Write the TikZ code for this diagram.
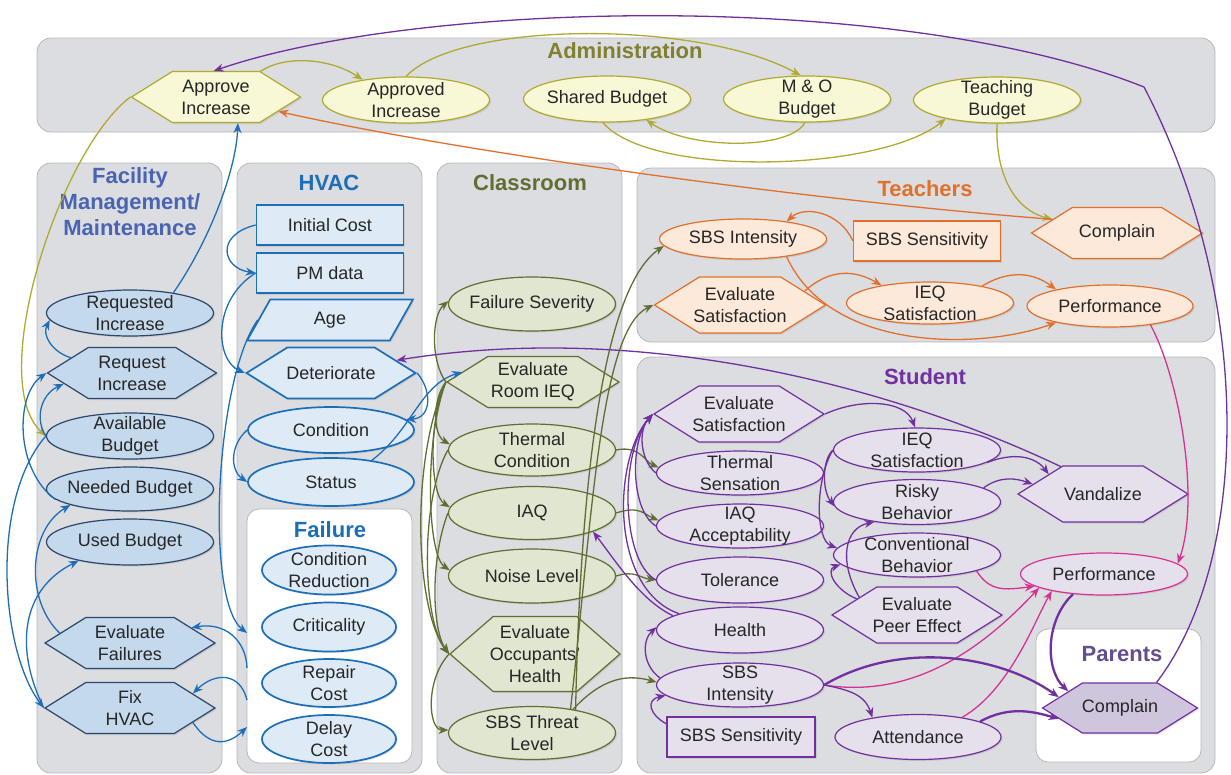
\documentclass[tikz,border=0pt]{standalone}
\usepackage{fontspec}
\setmainfont{Liberation Sans}
\usetikzlibrary{arrows.meta,shapes.geometric,shapes.symbols,shadows}

\definecolor{ink}{RGB}{38,38,38}
\definecolor{grpfill}{RGB}{220,221,224}
\definecolor{grpline}{RGB}{182,183,186}
\definecolor{admT}{RGB}{128,128,48}
\definecolor{admL}{RGB}{176,170,50}
\definecolor{admF}{RGB}{248,247,214}
\definecolor{facT}{RGB}{72,100,178}
\definecolor{facL}{RGB}{42,72,108}
\definecolor{facF}{RGB}{197,217,237}
\definecolor{hvcT}{RGB}{28,110,185}
\definecolor{hvcF}{RGB}{222,235,247}
\definecolor{clsT}{RGB}{95,110,50}
\definecolor{clsF}{RGB}{224,230,207}
\definecolor{tchT}{RGB}{226,112,45}
\definecolor{tchF}{RGB}{253,233,217}
\definecolor{stuT}{RGB}{112,48,160}
\definecolor{stuF}{RGB}{230,224,236}
\definecolor{parT}{RGB}{100,78,142}
\definecolor{parF}{RGB}{207,198,222}
\definecolor{mag}{RGB}{214,50,150}

\tikzset{
  grp/.style={draw=grpline, fill=grpfill, rounded corners=14pt, line width=0.8pt},
  wbox/.style={draw=grpline, fill=white, rounded corners=12pt, line width=0.8pt},
  ttl/.style={font=\fontsize{22}{26}\selectfont\bfseries, align=center},
  nd/.style={font=\fontsize{18}{22}\selectfont, text=ink, align=center, line width=1.2pt,
             drop shadow={shadow xshift=1.5pt, shadow yshift=-1.5pt, opacity=.2}},
  ell/.style={nd, ellipse, minimum width=167pt, minimum height=46pt, inner xsep=-20pt, inner ysep=-6pt},
  hexa/.style={nd, signal, signal to=east and west, signal pointer angle=64,
               minimum width=169pt, minimum height=51pt, inner xsep=-8pt, inner ysep=0pt},
  rectn/.style={nd, rectangle, minimum width=147pt, minimum height=40pt},
  adm/.style={draw=admL, fill=admF},
  fac/.style={draw=facL, fill=facF},
  hvc/.style={draw=hvcT, fill=hvcF, line width=1.7pt},
  cls/.style={draw=clsT, fill=clsF},
  tch/.style={draw=tchT, fill=tchF},
  stu/.style={draw=stuT, fill=stuF},
  flow/.style={-{Stealth[length=10pt,width=8pt]}, line width=1.3pt},
  fat/.style={flow, line width=2.3pt},
}

\begin{document}
\begin{tikzpicture}[x=1pt,y=1pt]
  \useasboundingbox (0,0) rectangle (1231,-774);

  % groups
  \node[grp, minimum width=1178pt, minimum height=94pt] (admBox) at (626,-85) {};
  \node[grp, minimum width=185pt, minimum height=610pt] (facBox) at (129.5,-468) {};
  \node[grp, minimum width=185pt, minimum height=610pt] (hvcBox) at (329.5,-468) {};
  \node[grp, minimum width=185pt, minimum height=610pt] (clsBox) at (529.5,-468) {};
  \node[grp, minimum width=578pt, minimum height=174pt] (tchBox) at (926,-255) {};
  \node[grp, minimum width=578pt, minimum height=416pt] (stuBox) at (926,-565) {};
  \node[wbox, minimum width=165pt, minimum height=254pt] (failBox) at (329.5,-636) {};
  \node[wbox, minimum width=165pt, minimum height=133pt] (parBox) at (1118.5,-695.5) {};

  \node[ttl, text=admT] (admTtl) at (625,-51) {Administration};
  \node[ttl, text=facT] (facTtl) at (130,-202) {Facility\\Management/\\Maintenance};
  \node[ttl, text=hvcT] (hvcTtl) at (329,-183) {HVAC};
  \node[ttl, text=clsT] (clsTtl) at (530,-183) {Classroom};
  \node[ttl, text=tchT] (tchTtl) at (925,-189) {Teachers};
  \node[ttl, text=stuT] (stuTtl) at (925,-377) {Student};
  \node[ttl, text=hvcT] (failTtl) at (330,-530) {Failure};
  \node[ttl, text=parT] (parTtl) at (1122,-654) {Parents};

  % administration
  \node[hexa, adm] (apprInc) at (216,-97) {Approve\\Increase};
  \node[ell, adm] (apprdInc) at (406,-100) {Approved\\Increase};
  \node[ell, adm] (sharedB) at (607,-99) {Shared Budget};
  \node[ell, adm] (moB) at (807,-99) {M \& O\\Budget};
  \node[ell, adm] (teachB) at (997,-100) {Teaching\\Budget};

  % facility management
  \node[ell, fac] (reqdInc) at (130,-313) {Requested\\Increase};
  \node[hexa, fac] (reqInc) at (132,-373) {Request\\Increase};
  \node[ell, fac] (availB) at (130,-436) {Available\\Budget};
  \node[ell, fac, minimum height=44pt] (neededB) at (130,-489) {Needed Budget};
  \node[ell, fac] (usedB) at (130,-542) {Used Budget};
  \node[hexa, fac, minimum width=170pt] (evalFail) at (130,-643) {Evaluate\\Failures};
  \node[hexa, fac, minimum width=170pt] (fixHvac) at (130,-708) {Fix\\HVAC};

  % hvac
  \node[rectn, hvc] (initCost) at (330,-225) {Initial Cost};
  \node[rectn, hvc] (pmData) at (330,-273) {PM data};
  \node[nd, hvc, trapezium, trapezium left angle=69, trapezium right angle=111, trapezium stretches=true,
        minimum width=166pt, minimum height=41pt, inner sep=0pt] (age) at (330,-320) {Age};
  \node[hexa, hvc] (deter) at (331,-373) {Deteriorate};
  \node[ell, hvc, minimum width=166pt] (cond) at (331,-430) {Condition};
  \node[ell, hvc, minimum width=166pt, minimum height=48pt] (status) at (331,-482) {Status};
  \node[ell, hvc, minimum width=134pt, minimum height=49pt] (condRed) at (329,-570) {Condition\\Reduction};
  \node[ell, hvc, minimum width=134pt, minimum height=49pt] (crit) at (329,-627) {Criticality};
  \node[ell, hvc, minimum width=134pt, minimum height=48pt] (repCost) at (329,-683) {Repair\\Cost};
  \node[ell, hvc, minimum width=134pt, minimum height=48pt] (delCost) at (329,-739) {Delay\\Cost};

  % classroom
  \node[ell, cls, minimum height=54pt] (failSev) at (532,-304) {Failure Severity};
  \node[hexa, cls, minimum width=172pt] (evalRoom) at (533,-382) {Evaluate\\Room IEQ};
  \node[ell, cls, minimum height=52pt] (thermCond) at (532,-450) {Thermal\\Condition};
  \node[ell, cls, minimum height=53pt] (iaq) at (532,-513) {IAQ};
  \node[ell, cls, minimum height=54pt] (noise) at (532,-576) {Noise Level};
  \node[hexa, cls, minimum width=170pt, minimum height=75pt, signal pointer angle=82] (evalHealth) at (535,-654) {Evaluate\\Occupants'\\Health};
  \node[ell, cls, minimum height=53pt] (sbsThreat) at (532,-733) {SBS Threat\\Level};

  % teachers
  \node[ell, tch, minimum height=40pt] (tSbsInt) at (743,-239) {SBS Intensity};
  \node[rectn, tch] (tSbsSens) at (927,-241) {SBS Sensitivity};
  \node[hexa, tch, minimum width=171pt] (tComplain) at (1117,-233) {Complain};
  \node[hexa, tch, minimum width=171pt, minimum height=56pt] (tEvalSat) at (740,-305) {Evaluate\\Satisfaction};
  \node[ell, tch, minimum height=42pt] (tIeqSat) at (930,-303) {IEQ\\Satisfaction};
  \node[ell, tch, minimum width=166pt, minimum height=42pt] (tPerf) at (1110,-306) {Performance};

  % student
  \node[hexa, stu, minimum width=170pt, minimum height=56pt] (sEvalSat) at (739,-414) {Evaluate\\Satisfaction};
  \node[ell, stu, minimum height=44pt] (thermSens) at (740,-473) {Thermal\\Sensation};
  \node[ell, stu, minimum height=44pt] (iaqAcc) at (740,-526) {IAQ\\Acceptability};
  \node[ell, stu] (tolerance) at (740,-580) {Tolerance};
  \node[ell, stu] (health) at (740,-630) {Health};
  \node[ell, stu, minimum height=44pt] (sSbsInt) at (740,-685) {SBS\\Intensity};
  \node[rectn, stu, minimum width=148pt] (sSbsSens) at (741,-737) {SBS Sensitivity};
  \node[ell, stu, minimum height=44pt] (sIeqSat) at (917,-450) {IEQ\\Satisfaction};
  \node[ell, stu, minimum height=45pt] (risky) at (917,-502) {Risky\\Behavior};
  \node[ell, stu, minimum height=44pt] (conv) at (917,-555) {Conventional\\Behavior};
  \node[hexa, stu, minimum width=170pt, minimum height=56pt] (peer) at (917,-615) {Evaluate\\Peer Effect};
  \node[ell, stu, minimum width=166pt, minimum height=45pt] (attend) at (918,-737) {Attendance};
  \node[hexa, stu, minimum width=170pt, minimum height=56pt] (vandal) at (1103,-494) {Vandalize};
  \node[ell, draw=mag, fill=stuF, minimum height=42pt] (sPerf) at (1104,-574) {Performance};
  \node[hexa, draw=stuT, fill=parF, minimum width=155pt, minimum height=50pt] (pComplain) at (1120,-708) {Complain};

  % free ends on the failure box
  \coordinate (fbCrit) at (247,-633);
  \coordinate (fbA) at (247,-668);
  \coordinate (fbB) at (247,-700);
  \coordinate (fbC) at (247,-727);
  \coordinate (kink) at (1144,-87);

  % administration links
  \draw[flow,admL] (apprInc.30) .. controls (285,-55) and (330,-58) .. (apprdInc.155);
  \draw[flow,admL] (apprdInc.north) .. controls (460,-20) and (700,-20) .. (moB.105);
  \draw[flow,admL] (moB.-95) .. controls (790,-150) and (690,-150) .. (sharedB.-28);
  \draw[flow,admL] (sharedB.-100) .. controls (650,-178) and (880,-172) .. (teachB.-160);
  \draw[flow,admL] (teachB.-90) .. controls (995,-175) and (1015,-210) .. (tComplain.168);
  \draw[flow,admL] (apprInc.west) .. controls (60,-150) and (-15,-380) .. (availB.180);
  \draw[flow,tchT] (tComplain.168) .. controls (800,-200) and (450,-150) .. (apprInc.-13);
  \draw[flow,stuT] (pComplain.35) .. controls (1250,-560) and (1255,-300) .. (kink)
        .. controls (900,10) and (420,0) .. (apprInc.95);

  % facility and hvac links
  \draw[flow,hvcT] (reqdInc.25) .. controls (210,-240) and (236,-170) .. (apprInc.-50);
  \draw[flow,hvcT] (reqInc.166) .. controls (52,-352) and (42,-335) .. (reqdInc.185);
  \draw[flow,hvcT] (neededB.188) .. controls (15,-470) and (15,-395) .. (reqInc.west);
  \draw[flow,hvcT] (availB.west) .. controls (35,-420) and (40,-395) .. (reqInc.-171);
  \draw[flow,hvcT] (availB.west) .. controls (-10,-500) and (0,-650) .. (fixHvac.west);
  \draw[flow,hvcT] (evalFail.172) .. controls (25,-600) and (28,-530) .. (neededB.195);
  \draw[flow,hvcT] (fixHvac.west) .. controls (15,-650) and (20,-590) .. (usedB.200);
  \draw[flow,hvcT] (initCost.west) .. controls (215,-235) and (222,-268) .. (pmData.west);
  \draw[flow,hvcT] (pmData.west) .. controls (212,-300) and (215,-360) .. (deter.west);
  \draw[flow,hvcT] (age.west) .. controls (215,-380) and (205,-600) .. (fbCrit);
  \draw[flow,hvcT] (deter.east) .. controls (432,-390) and (432,-418) .. (cond.8);
  \draw[flow,hvcT] (cond.west) .. controls (230,-445) and (230,-470) .. (status.west);
  \draw[flow,hvcT] (status.28) .. controls (412,-430) and (420,-385) .. (evalRoom.172);
  \draw[flow,hvcT] (fbA) .. controls (246,-640) and (225,-622) .. (evalFail.14);
  \draw[flow,hvcT] (fbB) .. controls (240,-672) and (215,-672) .. (fixHvac.13);
  \draw[flow,hvcT] (fixHvac.-13) .. controls (210,-748) and (228,-745) .. (fbC);
  \draw[flow,stuT] (vandal.147) .. controls (900,-390) and (650,-320) .. (deter.11);

  % classroom links
  \draw[flow,clsT] (evalRoom.west) .. controls (430,-360) and (432,-315) .. (failSev.178);
  \draw[flow,clsT] (evalRoom.west) .. controls (432,-400) and (433,-435) .. (thermCond.176);
  \draw[flow,clsT] (evalRoom.west) .. controls (428,-420) and (430,-495) .. (iaq.176);
  \draw[flow,clsT] (evalRoom.west) .. controls (424,-440) and (427,-555) .. (noise.176);
  \draw[flow,clsT] (evalRoom.west) .. controls (410,-460) and (415,-610) .. (evalHealth.west);
  \draw[flow,clsT] (thermCond.west) .. controls (420,-500) and (422,-620) .. (evalHealth.west);
  \draw[flow,clsT] (iaq.west) .. controls (430,-560) and (432,-630) .. (evalHealth.west);
  \draw[flow,clsT] (evalHealth.west) .. controls (425,-680) and (428,-730) .. (sbsThreat.178);
  \draw[flow,clsT] (sbsThreat.28) .. controls (580,-500) and (600,-290) .. (tSbsInt.185);
  \draw[flow,clsT] (sbsThreat.32) .. controls (592,-520) and (600,-330) .. (tEvalSat.west);
  \draw[flow,clsT] (thermCond.east) .. controls (640,-445) and (645,-462) .. (thermSens.176);
  \draw[flow,clsT] (iaq.east) .. controls (640,-505) and (645,-515) .. (iaqAcc.176);
  \draw[flow,clsT] (noise.east) .. controls (635,-570) and (640,-578) .. (tolerance.west);
  \draw[flow,clsT] (sbsThreat.30) .. controls (605,-675) and (630,-675) .. (sSbsInt.178);

  % teacher links
  \draw[flow,tchT] (tSbsSens.west) .. controls (840,-212) and (805,-205) .. (tSbsInt.22);
  \draw[flow,tchT] (tEvalSat.12) .. controls (830,-268) and (855,-270) .. (tIeqSat.160);
  \draw[flow,tchT] (tIeqSat.18) .. controls (1005,-272) and (1030,-270) .. (tPerf.163);
  \draw[flow,tchT] (tSbsInt.-22) .. controls (830,-352) and (980,-350) .. (tPerf.197);
  \draw[flow,mag] (tPerf.-25) .. controls (1180,-380) and (1200,-500) .. (sPerf.8);

  % student links
  \draw[flow,stuT] (sEvalSat.east) .. controls (860,-398) and (905,-400) .. (sIeqSat.95);
  \draw[flow,stuT] (sIeqSat.-10) .. controls (1020,-450) and (1038,-460) .. (vandal.160);
  \draw[flow,stuT] (risky.12) .. controls (1000,-476) and (1015,-478) .. (vandal.172);
  \draw[flow,stuT] (sIeqSat.west) .. controls (822,-460) and (822,-490) .. (risky.183);
  \draw[flow,stuT] (sIeqSat.west) .. controls (815,-480) and (815,-540) .. (conv.175);
  \draw[flow,stuT] (peer.165) .. controls (835,-590) and (825,-570) .. (conv.187);
  \draw[flow,stuT] (peer.163) .. controls (838,-560) and (845,-528) .. (risky.-155);
  \draw[flow,mag] (conv.-15) .. controls (990,-592) and (1005,-590) .. (sPerf.190);
  \draw[flow,mag] (sSbsInt.east) .. controls (920,-700) and (990,-640) .. (sPerf.192);
  \draw[flow,mag] (attend.24) .. controls (1010,-690) and (1035,-620) .. (sPerf.198);
  \draw[fat,stuT] (sPerf.213) .. controls (1045,-620) and (1045,-670) .. (pComplain.162);
  \draw[fat,stuT] (sSbsInt.east) .. controls (900,-640) and (1000,-655) .. (pComplain.170);
  \draw[flow,stuT] (sSbsInt.east) .. controls (850,-690) and (865,-695) .. (attend.157);
  \draw[fat,stuT] (attend.14) .. controls (1010,-705) and (1035,-712) .. (pComplain.190);
  \draw[flow,stuT] (sSbsSens.170) .. controls (650,-715) and (645,-700) .. (sSbsInt.188);
  \draw[flow,stuT] (sSbsInt.175) .. controls (642,-665) and (642,-640) .. (health.178);
  \draw[flow,stuT] (health.168) .. controls (640,-600) and (615,-560) .. (iaq.-17);
  \draw[flow,stuT] (thermSens.180) .. controls (640,-460) and (638,-430) .. (sEvalSat.west);
  \draw[flow,stuT] (iaqAcc.180) .. controls (630,-510) and (630,-440) .. (sEvalSat.west);
  \draw[flow,stuT] (tolerance.180) .. controls (620,-560) and (620,-450) .. (sEvalSat.west);
  \draw[flow,stuT] (health.165) .. controls (610,-590) and (612,-460) .. (sEvalSat.west);
\end{tikzpicture}
\end{document}
